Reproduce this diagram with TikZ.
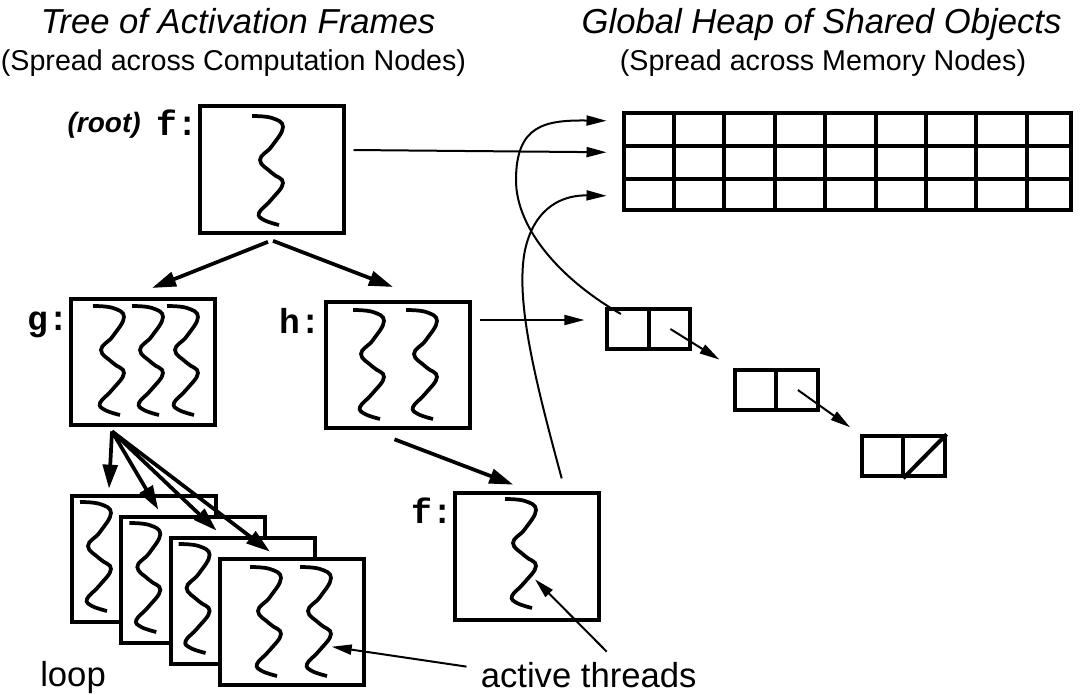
\documentclass[tikz,border=0pt]{standalone}
\usepackage{fontspec}
\setmainfont{Liberation Sans}
\newfontfamily\codefont{Liberation Mono}
\usetikzlibrary{arrows.meta,calc}
\tikzset{
  frame/.style={draw, line width=3pt, fill=white, minimum width=108pt, minimum height=95pt, inner sep=0pt},
  lbl/.style={font=\codefont\bfseries\fontsize{26}{26}\selectfont, inner sep=0pt, anchor=base east},
  title/.style={font=\itshape\fontsize{26}{30}\selectfont, inner sep=0pt, anchor=base},
  sub/.style={font=\fontsize{21.5}{25}\selectfont, inner sep=0pt, anchor=base},
  big/.style={font=\fontsize{26}{30}\selectfont, inner sep=0pt, anchor=base west},
  tree/.style={line width=2.8pt, -{Triangle[length=18pt,width=11pt]}},
  ptr/.style={line width=1.5pt, -{Triangle[length=15pt,width=7.5pt]}},
  cell/.style={draw, line width=3pt, minimum width=62pt, minimum height=30pt, inner sep=0pt},
  thread/.pic={\draw[line width=2.8pt] plot[smooth,tension=0.7] coordinates {(0,0) (20,2) (31,11) (20,30) (8,44) (20,57) (31,67) (19,84) (7,97) (12,104) (27,109)};}
}
\begin{document}
\begin{tikzpicture}[x=0.75pt,y=-0.75pt]
  \useasboundingbox (0,0) rectangle (1081,694);
  \node[title] (treettl) at (238,33.5) {Tree of Activation Frames};
  \node[sub] (treesub) at (233.5,70.5) {(Spread across Computation Nodes)};
  \node[title] (heapttl) at (821.5,33.5) {Global Heap of Shared Objects};
  \node[sub] (heapsub) at (823,70.5) {(Spread across Memory Nodes)};

  \node[frame] (rootf) at (271.5,169.5) {};
  \pic at (252,116) {thread};
  \node[lbl] (rootlbl) at (198,135) {f:};
  \node[font=\bfseries\itshape\fontsize{21}{21}\selectfont, inner sep=0pt, anchor=base east] (roottag) at (141,132.5) {(root)};

  \node[frame] (g) at (143,362) {};
  \foreach \x in {93,132,167} \pic at (\x,306) {thread};
  \node[lbl] (glbl) at (69,330) {g:};

  \node[frame] (h) at (397.5,365) {};
  \foreach \x in {353,406} \pic at (\x,310) {thread};
  \node[lbl] (hlbl) at (321,333) {h:};

  \foreach \i in {0,1,2} {
    \node[frame] (loop\i) at (144+49.3*\i,559+21*\i) {};
    \pic at (80+49.3*\i,502+21*\i) {thread};
  }
  \node[frame] (loop3) at (292,622) {};
  \foreach \x in {250,300} \pic at (\x,567) {thread};

  \node[frame] (fb) at (526.7,556.7) {};
  \pic at (505,499) {thread};
  \node[lbl] (fblbl) at (453,523) {f:};

  \node[big] (looplbl) at (40,686) {loop};
  \node[big] (act) at (480.5,687) {active threads};

  \draw[tree] ($(rootf.south)+(-3.5,7)$) -- ($(g.north)+(9,-8.7)$);
  \draw[tree] ($(rootf.south)+(1.5,6)$) -- ($(h.north)+(-4.5,-12.7)$);
  \draw[tree] ($(h.south)+(-3,9)$) -- ($(fb.north)+(-13.4,-6.7)$);
  \foreach \i/\dx in {0/-35,1/-35,2/-26,3/-22}
    \draw[tree] ($(g.south)+(-31,4)$) -- ($(loop\i.north)+(\dx,-5)$);

  \node[draw, line width=3pt, minimum width=335.6pt, minimum height=72.4pt, inner sep=0pt] (heap) at (847.25,161.75) {};
  \foreach \x in {673.5,724,774.5,825,875.5,926,976,1027}
    \draw[line width=3pt] (\x,113.5) -- (\x,210);
  \foreach \y in {145.5,178.5}
    \draw[line width=3pt] (623.5,\y) -- (1071,\y);

  \node[cell] (c1) at (648.75,329) {};
  \node[cell] (c2) at (776.25,390) {};
  \node[cell] (c3) at (903.25,456.25) {};
  \foreach \c in {c1,c2,c3} \draw[line width=3pt] (\c.north) -- (\c.south);
  \draw[line width=3pt] (c3.south) -- (c3.north east);
  \draw[ptr, shorten >=12pt] ($(c1.center)!0.5!(c1.east)$) -- (c2.north west);
  \draw[ptr, shorten >=9pt] ($(c2.center)!0.5!(c2.east)$) -- (c3.north west);

  \draw[ptr] ($(rootf.east)+(8,-19.5)$) -- ($(heap.west)+(-15,-9.5)$);
  \draw[ptr] ($(h.east)+(8,-45)$) -- ($(c1.west)+(-21,-9)$);
  \draw[ptr] ($(c1.north west)+(15.5,7)$) .. controls (563,281) and (516,230) .. (516,180)
    .. controls (516,125) and (545,120) .. ($(heap.west)+(-15,-41)$);
  \draw[ptr] ($(fb.north)+(35,-13)$) .. controls (535,380) and (515,300) .. (525,250)
    .. controls (535,205) and (565,195) .. ($(heap.west)+(-15,34)$);

  \draw[ptr] ($(act.west)+(-14,-8)$) -- ($(loop3.center)+(39.7,24.7)$);
  \draw[ptr] ($(act.north)+(18,-10)$) -- ($(fb.center)+(8.3,22.6)$);
\end{tikzpicture}
\end{document}
